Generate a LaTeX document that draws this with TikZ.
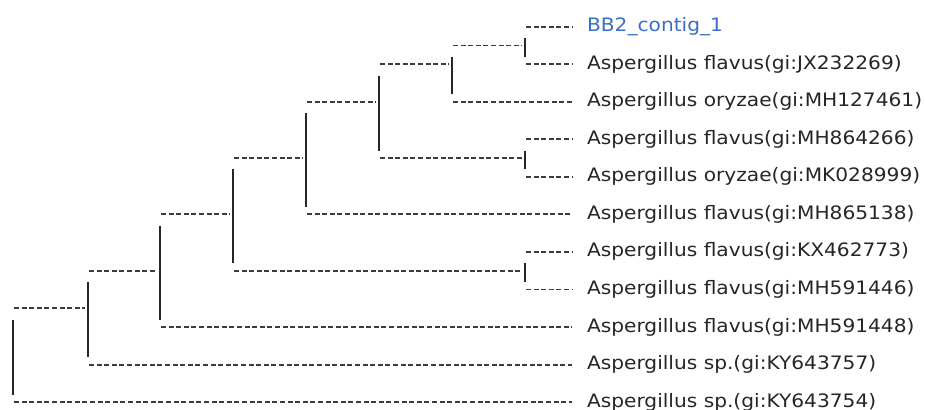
\documentclass[tikz,border=0pt]{standalone}
\usepackage{fontspec}
\usetikzlibrary{calc}
\newfontfamily\leaffont[FakeStretch=1.09]{DejaVu Sans}
\definecolor{tipblue}{RGB}{56,110,200}
\definecolor{inkgray}{RGB}{60,60,60}
\begin{document}
\begin{tikzpicture}[x=1pt, y={(0pt,-18.77pt)},
  branch/.style={draw=inkgray, line width=1.9pt, dash pattern=on 5pt off 2.6pt},
  stem/.style={draw=black!85, line width=1.8pt},
  leaf/.style={anchor=base west, inner sep=0pt, outer xsep=15pt,
    font=\leaffont\fontsize{18.5pt}{22pt}\selectfont, text=black!85},
  query/.style={leaf, text=tipblue}]
\useasboundingbox (0,-1.4225) rectangle (925,20.368);

% right ends of the leaf branches (one text row every two lines)
\foreach \k in {1,...,11}
  \coordinate (e\k) at (572, {2*(\k-1)});

% leaf labels
\node[query] (L1)  at ([yshift=-5pt]e1)  {BB2\_contig\_1};
\node[leaf]  (L2)  at ([yshift=-5pt]e2)  {Aspergillus flavus(gi:JX232269)};
\node[leaf]  (L3)  at ([yshift=-5pt]e3)  {Aspergillus oryzae(gi:MH127461)};
\node[leaf]  (L4)  at ([yshift=-5pt]e4)  {Aspergillus flavus(gi:MH864266)};
\node[leaf]  (L5)  at ([yshift=-5pt]e5)  {Aspergillus oryzae(gi:MK028999)};
\node[leaf]  (L6)  at ([yshift=-5pt]e6)  {Aspergillus flavus(gi:MH865138)};
\node[leaf]  (L7)  at ([yshift=-5pt]e7)  {Aspergillus flavus(gi:KX462773)};
\node[leaf]  (L8)  at ([yshift=-5pt]e8)  {Aspergillus flavus(gi:MH591446)};
\node[leaf]  (L9)  at ([yshift=-5pt]e9)  {Aspergillus flavus(gi:MH591448)};
\node[leaf]  (L10) at ([yshift=-5pt]e10) {Aspergillus sp.(gi:KY643757)};
\node[leaf]  (L11) at ([yshift=-5pt]e11) {Aspergillus sp.(gi:KY643754)};

% internal nodes: junction, top and bottom of the vertical bar
\foreach \n/\x/\h/\a/\b in {n1/525/1/0.6/1.6, n2/452/2/1.6/3.6, n3/525/7/6.6/7.6,
    n4/379/4/2.6/6.6, n5/306/7/4.6/9.6, n6/525/13/12.6/13.6, n7/233/10/7.6/12.6,
    n8/160/13/10.6/15.6, n9/88/15/13.6/17.6, n10/13/17/15.6/19.6}{
  \coordinate (\n) at (\x,\h);
  \coordinate (\n t) at (\x,\a);
  \coordinate (\n b) at (\x,\b);
}

% vertical bars
\foreach \n in {n1,n2,n3,n4,n5,n6,n7,n8,n9,n10}
  \draw[stem] (\n t) -- (\n b);

% branches to leaves
\foreach \p/\e in {n1/e1, n1/e2, n2/e3, n3/e4, n3/e5, n5/e6, n6/e7, n6/e8,
    n8/e9, n9/e10, n10/e11}
  \draw[branch] ($(\p |- \e)+(1,0)$) -- (\e);

% branches to internal nodes
\foreach \p/\c in {n2/n1, n4/n2, n4/n3, n5/n4, n7/n5, n7/n6, n8/n7, n9/n8, n10/n9}
  \draw[branch] ($(\p |- \c)+(1,0)$) -- ($(\c)+(-3,0)$);
\end{tikzpicture}
\end{document}
